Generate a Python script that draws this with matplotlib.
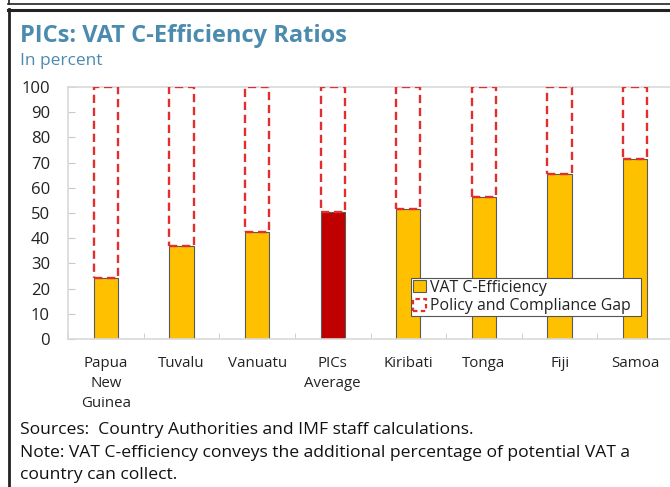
import matplotlib
matplotlib.use("Agg")
import matplotlib.pyplot as plt
from matplotlib.lines import Line2D
from matplotlib.patches import Patch
import numpy as np

plt.rcParams['font.family'] = ['Open Sans', 'DejaVu Sans']

categories = ["Papua\nNew\nGuinea", "Tuvalu", "Vanuatu", "PICs\nAverage",
              "Kiribati", "Tonga", "Fiji", "Samoa"]
c_efficiency = [24.3, 36.9, 42.5, 50.3, 51.6, 56.3, 65.6, 71.4]
total = [100] * len(categories)
highlight = "PICs\nAverage"

fig = plt.figure(figsize=(6.7, 4.87), dpi=100)
ax = fig.add_axes([68/670, 1-339/487, 605/670, 252/487])

x = np.arange(len(categories))
width = 0.32
colors = ["#C00000" if c == highlight else "#FFC000" for c in categories]
gaps = [t - v for t, v in zip(total, c_efficiency)]

ax.bar(x, c_efficiency, width, color=colors, edgecolor="#5a5a5a", linewidth=0.8, zorder=2)
ax.bar(x, gaps, width, bottom=c_efficiency, facecolor="none", edgecolor="#E02F2F",
       linewidth=1.7, linestyle=(0, (3.5, 2)), zorder=3)

ax.set_xlim(-0.5, len(categories) - 0.5)
ax.set_ylim(0, 100)
ax.set_yticks(range(0, 101, 10))
ax.set_xticks(x)
ax.set_xticklabels(categories, fontsize=10.8, color="#222222", linespacing=1.45)
ax.set_xticks(np.arange(-0.5, len(categories), 1), minor=True)
ax.tick_params(axis='x', which='major', length=0, pad=12)
ax.tick_params(axis='x', which='minor', direction='in', length=4, color="#c8c8c8")
ax.tick_params(axis='y', direction='in', length=5, color="#c8c8c8", labelsize=12,
               labelcolor="#222222", pad=13)
for side in ['left', 'bottom', 'top']:
    ax.spines[side].set_color("#d9d9d9")
    ax.spines[side].set_linewidth(1.2)
ax.spines['right'].set_visible(False)

handles = [Patch(facecolor="#FFC000", edgecolor="#5a5a5a", linewidth=0.8),
           Patch(facecolor="none", edgecolor="#E02F2F", linewidth=1.6, linestyle=(0, (2, 1.5)))]
leg = ax.legend(handles, ["VAT C-Efficiency", "Policy and Compliance Gap"],
                loc="lower left", bbox_to_anchor=((411-68)/605, (339-316)/252, 230/605, 40/252),
                mode="expand", fontsize=11.4, frameon=True, fancybox=False, edgecolor="#555555",
                framealpha=1, handlelength=0.8, handleheight=0.8, handletextpad=0.3, borderpad=0.12,
                labelspacing=0.15, borderaxespad=0)
leg.get_frame().set_linewidth(0.8)
leg.set_zorder(5)
for t in leg.get_texts():
    t.set_color("#222222")

fig.text(20/670, 1-36/487, "PICs: VAT C-Efficiency Ratios", fontsize=17, fontweight='bold',
         color="#4B8BAE", va='center', ha='left')
fig.text(20/670, 1-61/487, "In percent", fontsize=12.5, color="#4B8BAE", va='center', ha='left')

fs = 12.6
fig.text(20/670, 1-430/487, "Sources:  Country Authorities and IMF staff calculations.",
         fontsize=fs, color="#111111", va='center', ha='left')
fig.text(20/670, 1-453/487, "Note: VAT C-efficiency conveys the additional percentage of potential VAT a",
         fontsize=fs, color="#111111", va='center', ha='left')
fig.text(20/670, 1-475/487, "country can collect.",
         fontsize=fs, color="#111111", va='center', ha='left')

# frame lines
fig.add_artist(Line2D([8.5/670, 8.5/670], [0, 1 - 9/487], color="#222222", linewidth=2, transform=fig.transFigure))
fig.add_artist(Line2D([8/670, 1], [1 - 10/487, 1 - 10/487], color="#222222", linewidth=2.2, transform=fig.transFigure))
fig.add_artist(Line2D([8/670, 1], [1 - 4/487, 1 - 4/487], color="#222222", linewidth=1.2, transform=fig.transFigure))
fig.add_artist(Line2D([8.5/670, 8.5/670], [1 - 4/487, 1], color="#222222", linewidth=1.2, transform=fig.transFigure))

fig.savefig("out.png", dpi=100)
